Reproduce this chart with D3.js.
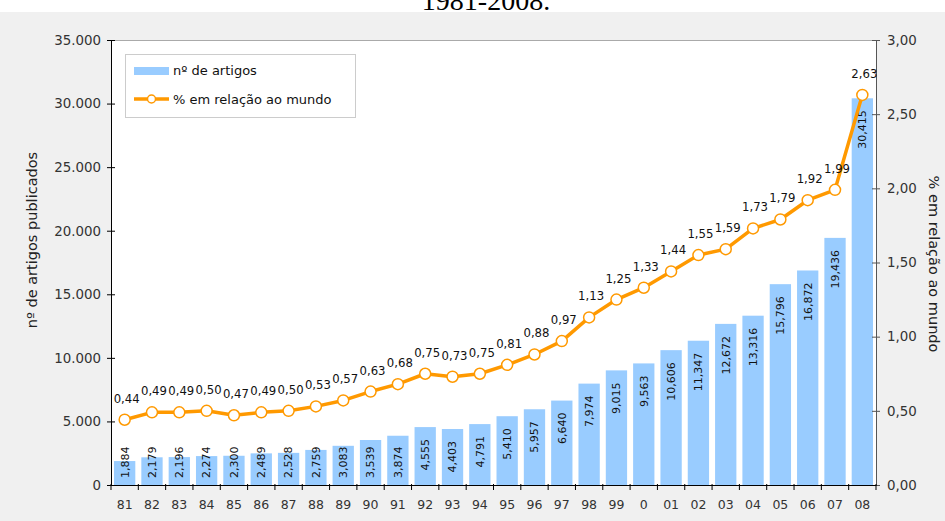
<!DOCTYPE html>
<html>
<head>
<meta charset="utf-8">
<script src="https://cdn.jsdelivr.net/npm/d3@7"></script>
<style>
  body { margin: 0; background: #fff; }
  svg { display: block; }
</style>
</head>
<body>
<svg width="945" height="521"></svg>
<script>
"use strict"

// anos (eixo X)
const years = ["81", "82", "83", "84", "85", "86", "87", "88", "89", "90", "91", "92", "93", "94",
               "95", "96", "97", "98", "99", "0", "01", "02", "03", "04", "05", "06", "07", "08"]
// nº de artigos publicados
const articles = [1884, 2179, 2196, 2274, 2300, 2489, 2528, 2759, 3083, 3539, 3874, 4555, 4403, 4791,
                  5410, 5957, 6640, 7974, 9015, 9563, 10606, 11347, 12672, 13316, 15796, 16872, 19436, 30415]
// % em relação ao mundo
const percent = [0.44, 0.49, 0.49, 0.50, 0.47, 0.49, 0.50, 0.53, 0.57, 0.63, 0.68, 0.75, 0.73, 0.75,
                 0.81, 0.88, 0.97, 1.13, 1.25, 1.33, 1.44, 1.55, 1.59, 1.73, 1.79, 1.92, 1.99, 2.63]
const leftTicks = [0, 5000, 10000, 15000, 20000, 25000, 30000, 35000]
const rightTicks = [0, 0.5, 1, 1.5, 2, 2.5, 3]

const data = years.map((y, i) => ({year: y, n: articles[i], p: percent[i]}))

const svg = d3.select("svg")
const font = "'DejaVu Sans', Verdana, sans-serif"
const area = {left: 111, right: 876, top: 40, bottom: 485}

const pt = d3.formatLocale({decimal: ",", thousands: ".", grouping: [3], currency: ["", ""]})
const fmtLeft = pt.format(",")
const fmtRight = pt.format(".2f")
const fmtBar = d3.format(",")

// fundo
svg.append("rect").attr("x", 0).attr("y", 12).attr("width", 945).attr("height", 509).attr("fill", "#f0f0f0")
svg.append("text")
    .attr("x", 486).attr("y", 10)
    .attr("text-anchor", "middle")
    .style("font-family", "'Liberation Serif', 'Times New Roman', serif")
    .style("font-size", "28px")
    .attr("fill", "#000")
    .text("1981-2008.")

svg.append("rect")
    .attr("x", area.left).attr("y", area.top)
    .attr("width", area.right - area.left).attr("height", area.bottom - area.top)
    .attr("fill", "#fff")
svg.append("line")
    .attr("x1", area.left).attr("x2", area.right)
    .attr("y1", area.top + 0.5).attr("y2", area.top + 0.5)
    .attr("stroke", "#aaa")

// escalas
const p = 0.22
const scX = d3.scaleBand()
    .domain(years)
    .range([area.left, area.right])
    .paddingInner(p)
    .paddingOuter(p / 2)
const scY = d3.scaleLinear().domain([0, 35000]).range([area.bottom, area.top])
const scP = d3.scaleLinear().domain([0, 3]).range([area.bottom, area.top])

// barras
svg.selectAll(".bar")
    .data(data)
    .enter()
    .append("rect")
    .attr("class", "bar")
    .attr("x", d => scX(d.year))
    .attr("y", d => scY(d.n))
    .attr("width", scX.bandwidth())
    .attr("height", d => area.bottom - scY(d.n))
    .attr("fill", "#99ccff")

// rótulos das barras (verticais)
svg.selectAll(".barlabel")
    .data(data)
    .enter()
    .append("text")
    .attr("class", "barlabel")
    .style("font-family", font)
    .style("font-size", "11px")
    .attr("fill", "#111")
    .attr("text-anchor", "start")
    .attr("dy", "0.35em")
    .text(d => fmtBar(d.n))
    .each(function(d) {
        const len = this.getComputedTextLength()
        const start = Math.min(scY(d.n) + 12 + len, area.bottom - 7)
        const cx = scX(d.year) + scX.bandwidth() / 2
        d3.select(this).attr("transform", `translate(${cx},${start}) rotate(-90)`)
    })

// eixos
function crossTicks(g, dir) {
    g.selectAll(".tick").append("line").attr("x2", dir * 4).attr("stroke", "currentColor")
}

const axisL = svg.append("g")
    .attr("transform", `translate(${area.left},0)`)
    .call(d3.axisLeft(scY).tickValues(leftTicks).tickFormat(fmtLeft).tickSize(4).tickPadding(6).tickSizeOuter(0))
axisL.call(g => crossTicks(g, 1))
axisL.selectAll("text").style("font-family", font).style("font-size", "13.4px").attr("fill", "#333")
axisL.select(".domain").attr("stroke", "#000")

const axisR = svg.append("g")
    .attr("transform", `translate(${area.right},0)`)
    .attr("color", "#555")
    .call(d3.axisRight(scP).tickValues(rightTicks).tickFormat(fmtRight).tickSize(4).tickPadding(7).tickSizeOuter(0))
axisR.call(g => crossTicks(g, -1))
axisR.selectAll("text").style("font-family", font).style("font-size", "13.4px").attr("fill", "#333")

const axisB = svg.append("g")
    .attr("transform", `translate(0,${area.bottom})`)
    .call(d3.axisBottom(scX).tickSize(0).tickPadding(15).tickSizeOuter(0))
axisB.selectAll("text").style("font-family", font).style("font-size", "12.5px").attr("fill", "#333")
axisB.select(".domain").attr("stroke", "#000")
// marcas entre as categorias
const step = scX.step()
const bounds = years.map(y => scX(y) - step * p / 2).concat([area.right])
axisB.selectAll(".sep")
    .data(bounds)
    .enter()
    .append("line")
    .attr("class", "sep")
    .attr("x1", d => d).attr("x2", d => d)
    .attr("y1", -1).attr("y2", 5)
    .attr("stroke", "#000")

// linha de percentagem
const lineF = d3.line()
    .x(d => scX(d.year) + scX.bandwidth() / 2)
    .y(d => scP(d.p))
svg.append("path")
    .datum(data)
    .attr("d", lineF)
    .attr("fill", "none")
    .attr("stroke", "#ff9900")
    .attr("stroke-width", 3.5)
    .attr("stroke-linejoin", "round")

svg.selectAll(".dot")
    .data(data)
    .enter()
    .append("circle")
    .attr("class", "dot")
    .attr("cx", d => scX(d.year) + scX.bandwidth() / 2)
    .attr("cy", d => scP(d.p))
    .attr("r", 5.5)
    .attr("fill", "#fff")
    .attr("stroke", "#ff9900")
    .attr("stroke-width", 1.5)

svg.selectAll(".plabel")
    .data(data)
    .enter()
    .append("text")
    .attr("class", "plabel")
    .attr("x", d => scX(d.year) + scX.bandwidth() / 2 + 2)
    .attr("y", d => scP(d.p) - 17)
    .attr("text-anchor", "middle")
    .style("font-family", font)
    .style("font-size", "11.7px")
    .attr("fill", "#111")
    .text(d => fmtRight(d.p))

// títulos dos eixos
svg.append("text")
    .attr("transform", "translate(37,240) rotate(-90)")
    .attr("text-anchor", "middle")
    .style("font-family", font)
    .style("font-size", "14.5px")
    .attr("fill", "#222")
    .text("nº de artigos publicados")
svg.append("text")
    .attr("transform", "translate(929,264) rotate(90)")
    .attr("text-anchor", "middle")
    .style("font-family", font)
    .style("font-size", "14.5px")
    .attr("fill", "#222")
    .text("% em relação ao mundo")

// legenda
const leg = svg.append("g").attr("transform", "translate(125,54)")
leg.append("rect")
    .attr("x", 0.5).attr("y", 0.5).attr("width", 230).attr("height", 63)
    .attr("fill", "#fff").attr("stroke", "#ccc")
leg.append("rect")
    .attr("x", 9).attr("y", 13).attr("width", 35).attr("height", 8)
    .attr("fill", "#99ccff")
leg.append("line")
    .attr("x1", 9).attr("x2", 44).attr("y1", 45).attr("y2", 45)
    .attr("stroke", "#ff9900").attr("stroke-width", 3.5)
leg.append("circle")
    .attr("cx", 26.5).attr("cy", 45).attr("r", 4)
    .attr("fill", "#fff").attr("stroke", "#ff9900").attr("stroke-width", 1.5)
leg.selectAll(".legtext")
    .data(["nº de artigos", "% em relação ao mundo"])
    .enter()
    .append("text")
    .attr("x", 48)
    .attr("y", (d, i) => 21 + i * 29)
    .style("font-family", font)
    .style("font-size", "13px")
    .attr("fill", "#111")
    .text(d => d)
</script>
</body>
</html>
